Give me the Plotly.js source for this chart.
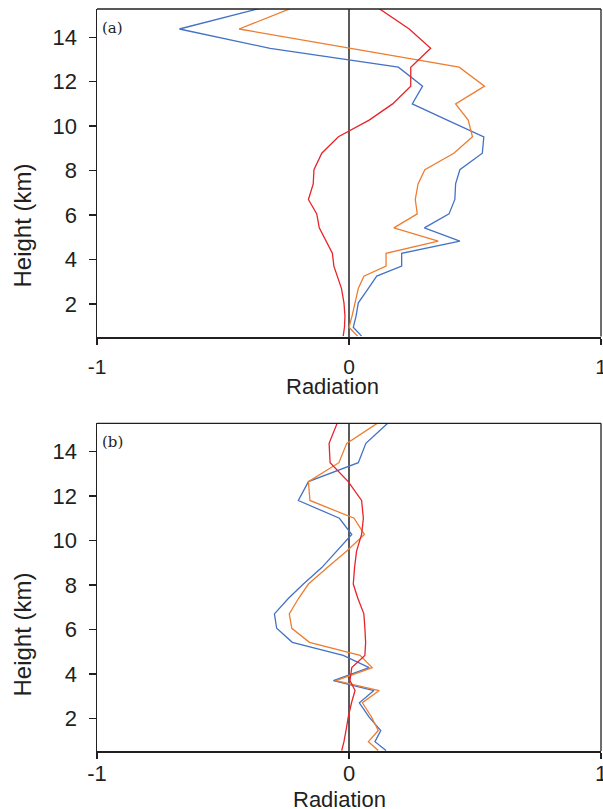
<!DOCTYPE html>
<html>
<head>
<meta charset="utf-8">
<script src="https://cdn.plot.ly/plotly-3.0.1.min.js"></script>
<style>html,body{margin:0;padding:0;background:#fff;}#chart{width:603px;height:809px;}</style>
</head>
<body>
<div id="chart"></div>
<script>
// Heights (km) of the profile levels
const heights = [0.55, 0.95, 1.45, 2.05, 2.7, 3.25, 3.7, 4.28, 4.83, 5.42, 6.05, 6.7, 7.4, 8.04, 8.78, 9.52, 10.27, 11.0, 11.8, 12.65, 13.5, 14.37, 15.3];

// Panel (a)
const blueA   = [0.05, 0.017, 0.028, 0.037, 0.077, 0.11, 0.209, 0.209, 0.44, 0.299, 0.397, 0.42, 0.423, 0.44, 0.529, 0.535, 0.39, 0.251, 0.292, 0.196, -0.313, -0.673, -0.353];
const orangeA = [0.034, 0.0, 0.012, 0.024, 0.037, 0.059, 0.147, 0.147, 0.354, 0.178, 0.271, 0.263, 0.274, 0.301, 0.416, 0.49, 0.473, 0.423, 0.538, 0.437, 0.0, -0.436, -0.23];
const redA    = [-0.023, -0.018, -0.016, -0.02, -0.03, -0.045, -0.06, -0.066, -0.09, -0.118, -0.128, -0.161, -0.142, -0.139, -0.108, -0.042, 0.08, 0.173, 0.245, 0.245, 0.324, 0.239, 0.118];

// Panel (b)
const blueB   = [0.147, 0.103, 0.126, 0.08, 0.041, 0.099, -0.062, 0.08, -0.023, -0.225, -0.287, -0.296, -0.24, -0.181, -0.108, -0.05, 0.011, -0.038, -0.201, -0.161, 0.037, 0.067, 0.156];
const orangeB = [0.116, 0.077, 0.116, 0.09, 0.053, 0.12, -0.052, 0.092, 0.044, -0.157, -0.227, -0.237, -0.2, -0.161, -0.086, -0.01, 0.061, 0.02, -0.155, -0.161, -0.04, -0.009, 0.116];
const redB    = [-0.029, -0.02, -0.012, -0.003, 0.01, 0.024, 0.004, 0.011, 0.063, 0.066, 0.063, 0.059, 0.035, 0.017, 0.022, 0.03, 0.05, 0.057, 0.05, -0.003, -0.075, -0.079, -0.046];

const xTicks = [-1, 0, 1];
const xTickText = ['-1', '0', '1'];
const yTicks = [2, 4, 6, 8, 10, 12, 14];
const panelLabels = ['(a)', '(b)'];
const xTitle = 'Radiation';
const yTitle = 'Height (km)';

const BLUE = '#4472C4', ORANGE = '#ED7D31', RED = '#E8232A';
const AX = '#231f20';
const FONT = 'Liberation Sans, Arial, sans-serif';

function tr(x, color, xa, ya) {
  return {x: x, y: heights, type: 'scatter', mode: 'lines', xaxis: xa, yaxis: ya,
          line: {color: color, width: 1.3}, hoverinfo: 'skip', showlegend: false};
}

const data = [
  tr(blueA, BLUE, 'x', 'y'), tr(orangeA, ORANGE, 'x', 'y'), tr(redA, RED, 'x', 'y'),
  tr(blueB, BLUE, 'x2', 'y2'), tr(orangeB, ORANGE, 'x2', 'y2'), tr(redB, RED, 'x2', 'y2')
];

function xax(anchor, standoff, size) {
  return {anchor: anchor, range: [-1, 1], tickmode: 'array', tickvals: xTicks, ticktext: xTickText,
          ticks: 'outside', ticklen: 6, tickwidth: 1.3, tickcolor: AX,
          showline: true, linecolor: AX, linewidth: 2, mirror: false,
          showgrid: false, zeroline: true, zerolinecolor: '#5a5a5a', zerolinewidth: 1.6,
          ticklabeloverflow: 'allow',
          tickfont: {family: FONT, size: size, color: AX}, ticklabelstandoff: standoff};
}
function yax(anchor, domain) {
  return {anchor: anchor, domain: domain, range: [0.53, 15.27], tickmode: 'array', tickvals: yTicks,
          ticks: 'outside', ticklen: 7, tickwidth: 1.3, tickcolor: AX,
          showline: true, linecolor: AX, linewidth: 1.5, mirror: false,
          showgrid: false, zeroline: false,
          tickfont: {family: FONT, size: 22, color: AX}, ticklabelstandoff: 7};
}

const layout = {
  width: 603, height: 809,
  margin: {l: 97, r: 2, t: 9, b: 58},
  paper_bgcolor: '#ffffff', plot_bgcolor: '#ffffff',
  showlegend: false,
  xaxis: xax('y', 4, 21),
  yaxis: yax('x', [0.5585, 1]),
  xaxis2: xax('y2', -4, 22),
  yaxis2: yax('x2', [0, 0.4416]),
  shapes: [
    {type: 'line', xref: 'x domain', yref: 'y domain', x0: 0, x1: 1, y0: 1, y1: 1, line: {color: AX, width: 1.3}},
    {type: 'line', xref: 'x domain', yref: 'y domain', x0: 1, x1: 1, y0: 0, y1: 1, line: {color: AX, width: 1.3}},
    {type: 'line', xref: 'x2 domain', yref: 'y2 domain', x0: 0, x1: 1, y0: 1, y1: 1, line: {color: AX, width: 1.3}},
    {type: 'line', xref: 'x2 domain', yref: 'y2 domain', x0: 1, x1: 1, y0: 0, y1: 1, line: {color: AX, width: 1.3}}
  ],
  annotations: [
    {text: panelLabels[0], xref: 'paper', yref: 'paper', x: 0.0317, y: 0.975, xanchor: 'center', yanchor: 'middle', showarrow: false,
     font: {family: 'DejaVu Serif, serif', size: 15, color: AX}},
    {text: panelLabels[1], xref: 'paper', yref: 'paper', x: 0.0317, y: 0.4171, xanchor: 'center', yanchor: 'middle', showarrow: false,
     font: {family: 'DejaVu Serif, serif', size: 15, color: AX}},
    {text: xTitle, xref: 'paper', yref: 'paper', x: 0.4673, y: 0.4912, xanchor: 'center', yanchor: 'middle', showarrow: false,
     font: {family: FONT, size: 22, color: AX}},
    {text: xTitle, xref: 'paper', yref: 'paper', x: 0.4802, y: -0.0647, xanchor: 'center', yanchor: 'middle', showarrow: false,
     height: 20, font: {family: FONT, size: 22, color: AX}},
    {text: yTitle, xref: 'paper', yref: 'paper', x: -0.1478, y: 0.7075, xanchor: 'center', yanchor: 'middle', showarrow: false, textangle: -90,
     font: {family: FONT, size: 24, color: AX}},
    {text: yTitle, xref: 'paper', yref: 'paper', x: -0.1478, y: 0.1563, xanchor: 'center', yanchor: 'middle', showarrow: false, textangle: -90,
     font: {family: FONT, size: 24, color: AX}}
  ]
};

Plotly.newPlot('chart', data, layout, {displayModeBar: false, staticPlot: true});
</script>
</body>
</html>
